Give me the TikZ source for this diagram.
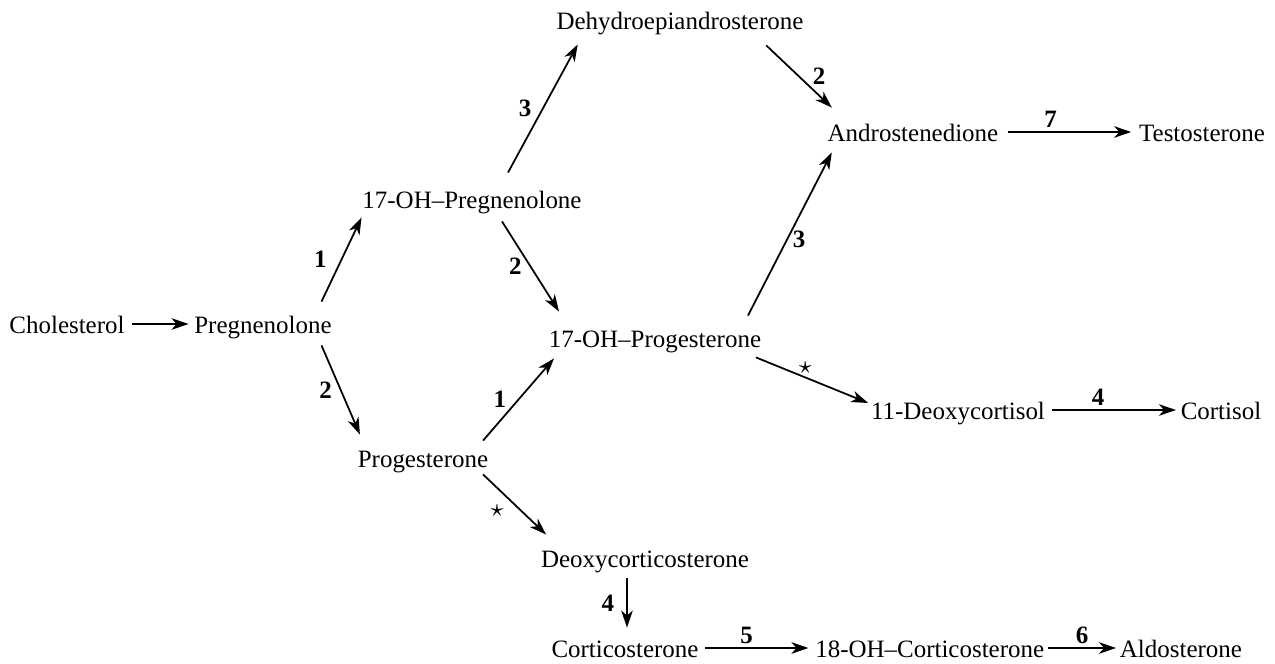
\documentclass[tikz,border=0pt]{standalone}
\usepackage{fontspec}
\setmainfont{Liberation Serif}
\usetikzlibrary{positioning}
\usetikzlibrary{arrows.meta}

\begin{document}
\begin{tikzpicture}[->, >={Stealth[length=1.7mm, width=1.15mm, inset=0.5mm]},
    x=0.01cm, y=-0.01cm, line width=0.5pt, font=\fontsize{7.1}{8.5}\selectfont,
    cmpd/.style={inner sep=0pt, text height=1.6ex, text depth=0.45ex},
    enz/.style={font=\fontsize{7.1}{8.5}\selectfont\bfseries, inner sep=1pt}]
    \useasboundingbox (0,0) rectangle (1275,664);

    \node[cmpd] (chol) at (67,324) {Cholesterol};
    \node[cmpd] (preg) [right=0.68cm of chol] {Pregnenolone};
    \node[cmpd] (ohpreg) at (472,199) {17-OH--Pregnenolone};
    \node[cmpd] (prog) at (423,458) {Progesterone};
    \node[cmpd] (dhea) at (680,20) {Dehydroepiandrosterone};
    \node[cmpd] (ohprog) at (655,338) {17-OH--Progesterone};
    \node[cmpd] (andro) at (913,132) {Androstenedione};
    \node[cmpd] (testo) [right=1.39cm of andro] {Testosterone};
    \node[cmpd] (dcort) at (958,410) {11-Deoxycortisol};
    \node[cmpd] (cortisol) [right=1.34cm of dcort] {Cortisol};
    \node[cmpd] (doc) at (645,558) {Deoxycorticosterone};
    \node[cmpd] (cortico) at (625,648) {Corticosterone};
    \node[cmpd] (ohcort) [right=1.15cm of cortico] {18-OH--Corticosterone};
    \node[cmpd] (aldo) [right=0.74cm of ohcort] {Aldosterone};

    \draw[shorten <=2pt, shorten >=1.4pt] (chol) -- (preg);
    \draw ([shift={(-11,-5)}]preg.north east) -- ([shift={(0,1)}]ohpreg.south west) node[enz, midway, left=3pt] {1};
    \draw ([shift={(-11,4)}]preg.south east) -- ([shift={(3,-6)}]prog.north west) node[enz, midway, left=1.3pt] {2};
    \draw ([shift={(36,-9)}]ohpreg.north) -- ([shift={(22,7)}]dhea.south west) node[enz, midway, left=2pt] {3};
    \draw ([shift={(30,5)}]ohpreg.south) -- ([shift={(11,-9)}]ohprog.north west) node[enz, midway, left=1.3pt] {2};
    \draw ([shift={(-38,8)}]dhea.south east) -- ([shift={(5,-7)}]andro.north west) node[enz, midway, right=2.7pt] {2};
    \draw ([shift={(-14,-5)}]ohprog.north east) -- ([shift={(5,3)}]andro.south west) node[enz, pos=0.47, right=0.3pt] {3};
    \draw ([shift={(-6,0)}]prog.north east) -- ([shift={(6,3)}]ohprog.south west) node[enz, midway, left=2.3pt] {1};
    \draw ([shift={(-6,2)}]ohprog.south east) -- ([shift={(-2,-7)}]dcort.west) node[enz, pos=0.44, above] {$\star$};
    \draw ([shift={(-6,-1)}]prog.south east) -- ([shift={(6,-6)}]doc.north west) node[enz, pos=0.6, left=3.5pt] {$\star$};
    \draw ([shift={(-18,3)}]doc.south) -- ([shift={(2,-3)}]cortico.north) node[enz, midway, left=2.4pt] {4};
    \draw[shorten <=2.5pt, shorten >=2pt] (andro) -- (testo) node[enz, pos=0.37, above] {7};
    \draw[shorten <=1.7pt, shorten >=1.1pt] (dcort) -- (cortisol) node[enz, pos=0.39, above] {4};
    \draw[shorten <=1.7pt, shorten >=1.7pt] (cortico) -- (ohcort) node[enz, pos=0.41, above] {5};
    \draw[shorten <=0.85pt, shorten >=0.85pt] (ohcort) -- (aldo) node[enz, midway, above] {6};

\end{tikzpicture}
\end{document}
